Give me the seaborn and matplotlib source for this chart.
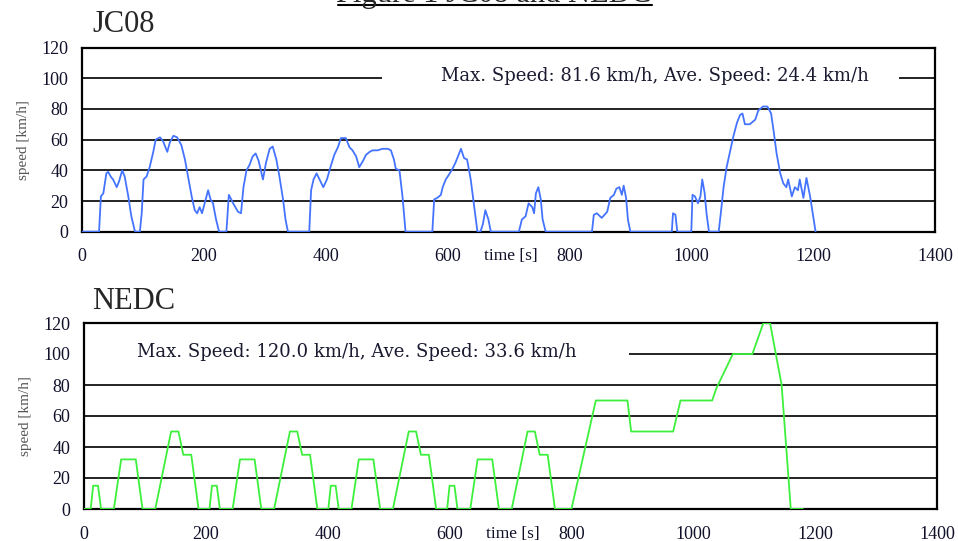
import numpy as np
import seaborn as sns
import matplotlib.pyplot as plt
from matplotlib.patches import Rectangle
from matplotlib.lines import Line2D

# JC08 speed trace (time s, speed km/h)
jc08_time = [0, 28, 31, 35, 40, 43, 47, 51, 57, 61, 66, 70, 76, 81, 87, 95, 98, 101, 106, 111,
             117, 121, 128, 133, 140, 144, 150, 156, 163, 169, 174, 180, 185, 189, 193, 197, 203,
             207, 211, 215, 220, 225, 237, 241, 245, 248, 256, 261, 265, 270, 275, 280, 285, 290,
             297, 302, 308, 313, 319, 324, 330, 334, 338, 373, 376, 380, 385, 391, 396, 402, 407,
             414, 420, 425, 433, 439, 444, 450, 455, 461, 466, 472, 477, 485, 493, 502, 507, 512,
             515, 521, 526, 531, 575, 578, 583, 589, 592, 597, 602, 608, 613, 622, 627, 632, 638,
             643, 649, 654, 658, 662, 667, 671, 717, 722, 728, 733, 739, 742, 745, 749, 753, 756,
             761, 837, 840, 845, 853, 862, 867, 873, 877, 882, 886, 889, 893, 896, 900, 968, 970,
             974, 977, 1000, 1002, 1006, 1011, 1015, 1018, 1022, 1025, 1029, 1045, 1049, 1053,
             1058, 1064, 1069, 1075, 1080, 1084, 1088, 1096, 1105, 1110, 1118, 1125, 1131, 1135,
             1140, 1146, 1151, 1156, 1159, 1165, 1170, 1175, 1178, 1184, 1189, 1195, 1200, 1204]
jc08_speed = [0, 0, 23, 25, 38, 39, 36, 34, 29, 33, 40, 36, 23, 10, 0, 0, 12, 34, 36, 42,
              52, 60, 61.5, 59, 52, 58, 62.5, 61.5, 56.5, 47, 36, 23, 14, 12, 16, 12, 21,
              27, 21, 18.5, 8, 0, 0, 24, 21, 18.5, 13, 12, 29, 40, 43.5, 49, 51, 46,
              34, 45, 54, 55.5, 47, 36, 21, 8, 0, 0, 27, 34, 38, 33, 29, 34, 41,
              50, 55, 61, 61, 55, 53, 49, 42, 46, 50, 52, 53, 53, 54, 54, 53, 47,
              41, 40, 23, 0, 0, 21, 22, 24, 29, 34, 37, 41, 45, 54, 48, 47, 34,
              18.5, 0, 0, 5, 14, 8, 0, 0, 8, 10, 18.5, 16, 12, 25, 29, 21, 8,
              0, 0, 11, 12, 9, 13, 22, 24, 28, 29, 24, 30, 22, 8, 0, 0, 12,
              11, 0, 0, 24, 23, 18.5, 23, 34, 25, 12, 0, 0, 14, 29,
              42, 53, 62, 71, 76, 77, 70, 70, 73, 79, 81.6, 81.5, 77, 66,
              51, 38, 31.5, 29, 34, 23, 29, 27, 34, 22, 35, 23, 10, 0]

# NEDC speed trace (4 x ECE-15 + EUDC)
nedc_time = [0, 11, 15, 23, 28, 49, 61, 85, 96, 117, 143, 155, 163, 176, 188,
             206, 210, 218, 223, 244, 256, 280, 291, 312, 338, 350, 358, 371, 383,
             401, 405, 413, 418, 439, 451, 475, 486, 507, 533, 545, 553, 566, 578,
             596, 600, 608, 613, 634, 646, 670, 681, 702, 728, 740, 748, 761, 773,
             800, 840, 892, 898, 967, 979, 1031, 1038, 1065, 1097, 1115, 1126, 1145, 1160, 1180]
nedc_speed = [0, 0, 15, 15, 0, 0, 32, 32, 0, 0, 50, 50, 35, 35, 0,
              0, 15, 15, 0, 0, 32, 32, 0, 0, 50, 50, 35, 35, 0,
              0, 15, 15, 0, 0, 32, 32, 0, 0, 50, 50, 35, 35, 0,
              0, 15, 15, 0, 0, 32, 32, 0, 0, 50, 50, 35, 35, 0,
              0, 70, 70, 50, 50, 70, 70, 78, 100, 100, 120, 120, 80, 0, 0]

x_ticks = [0, 200, 400, 600, 800, 1000, 1200, 1400]
y_ticks = [0, 20, 40, 60, 80, 100, 120]
jc08_note = "Max. Speed: 81.6 km/h, Ave. Speed: 24.4 km/h"
nedc_note = "Max. Speed: 120.0 km/h, Ave. Speed: 33.6 km/h"

sns.set_style("white")
plt.rcParams['font.family'] = ['Liberation Serif', 'DejaVu Serif']

W, H = 958, 541
fig = plt.figure(figsize=(W / 100, H / 100), dpi=100)
ax_top = fig.add_axes([82 / W, 1 - 231.7 / H, 853 / W, 184.2 / H])
ax_bot = fig.add_axes([84 / W, 1 - 509 / H, 853 / W, 186 / H])

panels = [
    (ax_top, jc08_time, jc08_speed, "#4474ff", jc08_note, 940, (492, 1341)),
    (ax_bot, nedc_time, nedc_speed, "#3cf03c", nedc_note, 448, (2, 895)),
]

for ax, t, v, color, note, note_x, (box_l, box_r) in panels:
    sns.lineplot(x=t, y=v, ax=ax, color=color, linewidth=1.3,
                 estimator=None, sort=False, zorder=3)
    ax.set_xlim(0, 1400)
    ax.set_ylim(0, 120)
    ax.set_xticks(x_ticks)
    ax.set_yticks(y_ticks)
    ax.tick_params(axis='x', direction='in', length=4, width=1.2, pad=12,
                   labelsize=13, labelcolor='#10102a', color='black')
    ax.tick_params(axis='y', direction='in', length=3, width=1.0, pad=10,
                   labelsize=13, labelcolor='#10102a', color='black')
    ax.set_axisbelow(True)
    ax.yaxis.grid(True, color='#111111', linewidth=1.3)
    ax.xaxis.grid(False)
    for s in ax.spines.values():
        s.set_visible(True)
        s.set_color('black')
        s.set_linewidth(1.6)
    ax.set_xlabel("")
    ax.set_ylabel("speed [km/h]", fontsize=11, color='#555555')
    ax.yaxis.set_label_coords(-0.061, 0.5)
    # white box masking the 100 gridline behind the note
    ax.add_patch(Rectangle((box_l, 95.5), box_r - box_l, 12, facecolor='white',
                           edgecolor='none', zorder=1))
    ax.text(note_x, 101.5, note, ha='center', va='center', fontsize=13,
            family='DejaVu Serif', color='#1a1a30', zorder=4)
    ax.text(704, -16, "time [s]", ha='center', va='center', fontsize=12.5,
            color='#10102a', clip_on=False)

fig.text(92 / W, 1 - 32 / H, "JC08", fontsize=22, ha='left', va='baseline')
fig.text(92 / W, 1 - 309 / H, "NEDC", fontsize=22, ha='left', va='baseline')

# page heading, cut off at the top edge
fig.text(494 / W, 1 - 2 / H, "Figure 1 JC08 and NEDC", fontsize=22,
         ha='center', va='baseline')
fig.add_artist(Line2D([338 / W, 652 / W], [1 - 4.7 / H] * 2,
                      color='black', linewidth=1.5))

fig.savefig("out.png", dpi=100)
